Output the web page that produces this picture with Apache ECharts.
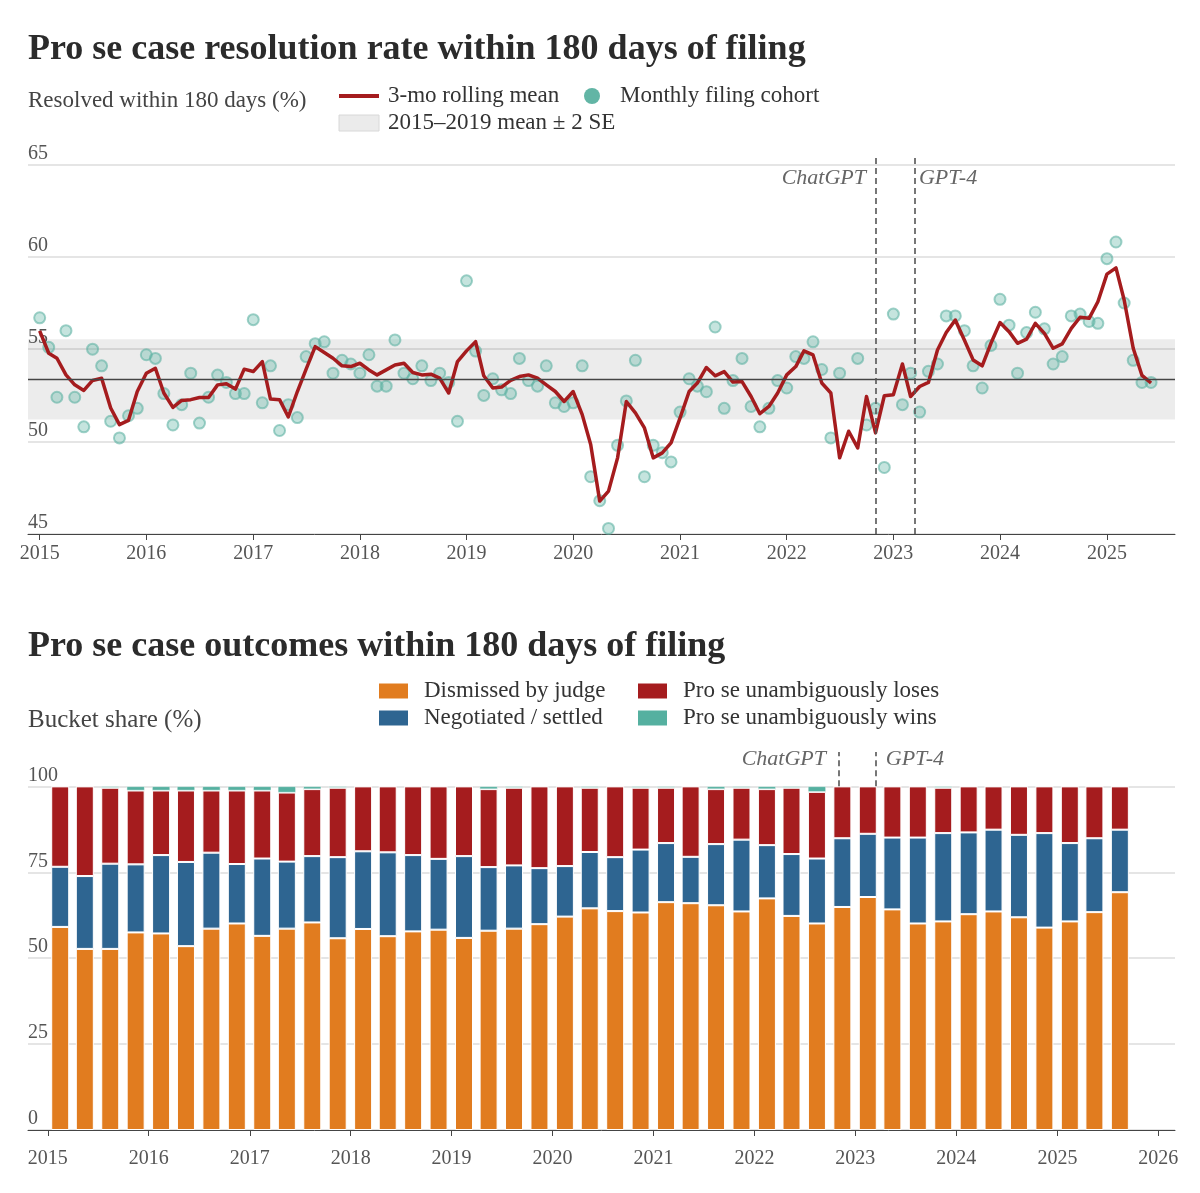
<!DOCTYPE html>
<html>
<head>
<meta charset="utf-8">
<title>Pro se case resolution</title>
<script src="https://cdn.jsdelivr.net/npm/echarts@6/dist/echarts.min.js"></script>
<style>
  html, body { margin: 0; padding: 0; background: #fff; }
  #chart { width: 1200px; height: 1193px; }
</style>
</head>
<body>
<div id="chart"></div>
<script>
const FONT = '"Liberation Serif", "Times New Roman", serif';

// monthly filing cohorts, Jan 2015 .. Jun 2025 (% resolved within 180 days)
const cohortRate = [
  56.7, 55.1, 52.4, 56.0, 52.4, 50.8, 55.0, 54.1, 51.1, 50.2, 51.4, 51.8,
  54.7, 54.5, 52.6, 50.9, 52.0, 53.7, 51.0, 52.4, 53.6, 53.2, 52.6, 52.6,
  56.6, 52.1, 54.1, 50.6, 52.0, 51.3, 54.6, 55.3, 55.4, 53.7, 54.4, 54.2,
  53.7, 54.7, 53.0, 53.0, 55.5, 53.7, 53.4, 54.1, 53.3, 53.7, 53.2, 51.1,
  58.7, 54.9, 52.5, 53.4, 52.8, 52.6, 54.5, 53.3, 53.0, 54.1, 52.1, 51.9,
  52.1, 54.1, 48.1, 46.8, 45.3, 49.8, 52.2, 54.4, 48.1, 49.8, 49.4, 48.9,
  51.6, 53.4, 53.0, 52.7, 56.2, 51.8, 53.3, 54.5, 51.9, 50.8, 51.8, 53.3,
  52.9, 54.6, 54.5, 55.4, 53.9, 50.2, 53.7, 43.5, 54.5, 50.9, 51.8, 48.6,
  56.9, 52.0, 53.7, 51.6, 53.8, 54.2, 56.8, 56.8, 56.0, 54.1, 52.9, 55.2,
  57.7, 56.3, 53.7, 55.9, 57.0, 56.1, 54.2, 54.6, 56.8, 56.9, 56.5, 56.4,
  59.9, 60.8, 57.5, 54.4, 53.2, 53.2
];

// 3-month rolling mean as drawn
const rollingMean = [
  55.99, 54.78, 54.51, 53.61, 53.07, 52.77, 53.31, 53.43, 51.82, 50.92, 51.15, 52.71,
  53.70, 53.97, 52.63, 51.85, 52.23, 52.27, 52.39, 52.39, 53.07, 53.13, 52.84, 53.92,
  53.79, 54.33, 52.30, 52.27, 51.33, 52.71, 53.92, 55.14, 54.82, 54.51, 54.10, 54.06,
  54.24, 53.88, 53.61, 53.88, 54.15, 54.24, 53.74, 53.61, 53.65, 53.43, 52.63, 54.33,
  54.91, 55.41, 53.56, 52.90, 52.95, 53.31, 53.52, 53.61, 53.43, 53.07, 52.71, 52.17,
  52.71, 51.46, 49.84, 46.78, 47.32, 49.12, 52.17, 51.55, 50.74, 49.12, 49.39, 49.93,
  51.28, 52.71, 53.17, 54.01, 53.56, 53.79, 53.22, 53.25, 52.44, 51.51, 51.90, 52.63,
  53.61, 54.06, 54.91, 54.69, 53.17, 52.63, 49.12, 50.56, 49.66, 52.44, 50.47, 52.48,
  52.54, 54.20, 52.44, 52.98, 53.20, 54.96, 55.90, 56.58, 55.50, 54.42, 54.10, 55.32,
  56.44, 55.95, 55.32, 55.54, 56.40, 55.86, 55.05, 55.29, 56.13, 56.73, 56.67, 57.57,
  59.06, 59.40, 57.66, 55.05, 53.58, 53.17
];

const baselineMean = 53.37;
const baselineLow = 51.19;
const baselineHigh = 55.54;

// quarterly outcome shares, 2015Q1 .. 2025Q3 (%)
const dismissed = [
  59.1, 52.7, 52.7, 57.5, 57.2, 53.5, 58.6, 60.1, 56.5, 58.6, 60.4, 55.8,
  58.5, 56.4, 57.8, 58.3, 55.9, 58.0, 58.6, 59.9, 62.1, 64.5, 63.7, 63.3,
  66.3, 66.0, 65.4, 63.6, 67.4, 62.3, 60.1, 64.9, 67.8, 64.2, 60.1, 60.7,
  62.8, 63.6, 61.9, 58.9, 60.7, 63.4, 69.2
];
const negotiated = [
  17.5, 21.2, 24.8, 19.8, 22.8, 24.5, 22.1, 17.3, 22.5, 19.5, 19.3, 23.6,
  22.6, 24.4, 22.2, 20.6, 23.8, 18.5, 18.4, 16.3, 14.7, 16.4, 15.7, 18.3,
  17.2, 13.5, 17.8, 20.9, 15.5, 18.0, 18.9, 20.0, 18.4, 20.9, 25.0, 25.7,
  23.8, 23.8, 24.0, 27.5, 22.8, 21.5, 18.2
];
const loses = [
  23.4, 26.1, 22.1, 21.5, 18.8, 20.8, 18.1, 21.4, 19.8, 20.1, 19.5, 20.2,
  18.9, 19.2, 20.0, 21.1, 20.3, 22.7, 22.6, 23.8, 23.2, 18.7, 20.6, 18.0,
  16.1, 20.5, 16.0, 15.1, 16.3, 19.3, 19.4, 15.1, 13.8, 14.9, 14.9, 13.2,
  13.4, 12.6, 14.1, 13.6, 16.5, 15.1, 12.6
];
const wins = [
  0, 0, 0.4, 1.2, 1.2, 1.2, 1.2, 1.2, 1.2, 1.8, 0.8, 0.4,
  0, 0, 0, 0, 0, 0.8, 0.4, 0, 0, 0.4, 0, 0.4,
  0.4, 0, 0.8, 0.4, 0.8, 0.4, 1.6, 0, 0, 0, 0, 0.4,
  0, 0, 0, 0, 0, 0, 0
];

const events = [
  { name: 'ChatGPT', date: Date.UTC(2022, 10, 1), side: 'left' },
  { name: 'GPT-4', date: Date.UTC(2023, 2, 14), side: 'right' }
];

// x positions: month starts and mid-quarter dates
const months = cohortRate.map((_, i) => Date.UTC(2015, i, 1));
const quarters = dismissed.map((_, i) => Date.UTC(2015, 3 * i + 1, 15));

const RED = '#a51c1e';
const ORANGE = '#e17c1f';
const BLUE = '#2e6591';
const WIN = '#55b0a0';
const DAY = 24 * 3600 * 1000;

const tickLabel = { fontFamily: FONT, fontSize: 20, color: '#555' };
const legendText = { fontFamily: FONT, fontSize: 23, color: '#333', lineHeight: 24 };

function timeAxis(gridIndex, min, max, labelMargin) {
  return {
    type: 'time',
    gridIndex,
    min,
    max,
    minInterval: 365 * DAY,
    maxInterval: 367 * DAY,
    axisLine: { lineStyle: { color: '#444', width: 1 } },
    axisTick: { length: 6, lineStyle: { color: '#444' } },
    axisLabel: {
      ...tickLabel,
      formatter: '{yyyy}',
      margin: labelMargin,
      showMinLabel: false,
      showMaxLabel: false
    },
    splitLine: { show: false }
  };
}

function valueAxis(gridIndex, min, max, interval) {
  return {
    type: 'value',
    gridIndex,
    min,
    max,
    interval,
    axisLine: { show: false },
    axisTick: { show: false },
    axisLabel: {
      ...tickLabel,
      inside: true,
      margin: 0,
      verticalAlign: 'bottom',
      padding: [0, 0, 1, 0],
      showMaxLabel: false
    },
    splitLine: { showMaxLine: false, lineStyle: { color: '#dcdcdc', width: 1.5 } }
  };
}

function eventSeries(xAxisIndex, yAxisIndex, yFrom, yTo, yLabel, gaps) {
  return {
    type: 'line',
    xAxisIndex,
    yAxisIndex,
    data: [],
    silent: true,
    z: 1,
    markLine: {
      silent: true,
      symbol: 'none',
      animation: false,
      lineStyle: { color: '#555', width: 1.6, type: [6, 4] },
      label: { show: false },
      data: events.map(e => [{ coord: [e.date, yFrom] }, { coord: [e.date, yTo] }])
    },
    markPoint: {
      silent: true,
      animation: false,
      symbol: 'circle',
      symbolSize: 1,
      itemStyle: { color: 'rgba(0,0,0,0)' },
      data: events.map((e, i) => ({
        coord: [e.date, yLabel],
        label: {
          show: true,
          position: e.side,
          distance: gaps[i],
          formatter: e.name,
          fontFamily: FONT,
          fontStyle: 'italic',
          fontSize: 22,
          color: '#666'
        }
      }))
    }
  };
}

const chart = echarts.init(document.getElementById('chart'));

const titleStyle = { fontFamily: FONT, fontWeight: 'bold', fontSize: 36, lineHeight: 40, color: '#2b2b2b' };
const nameStyle = { fontFamily: FONT, fontWeight: 'normal', fontSize: 23, lineHeight: 26, color: '#444' };

const option = {
  animation: false,
  useUTC: true,
  backgroundColor: '#fff',
  title: [
    { text: 'Pro se case resolution rate within 180 days of filing', left: 28, top: 30, padding: 0, textStyle: titleStyle },
    { text: 'Resolved within 180 days (%)', left: 28, top: 88, padding: 0, textStyle: nameStyle },
    { text: 'Pro se case outcomes within 180 days of filing', left: 28, top: 627, padding: 0, textStyle: titleStyle },
    { text: 'Bucket share (%)', left: 28, top: 707, padding: 0, textStyle: { ...nameStyle, fontSize: 25 } }
  ],
  legend: [
    {
      orient: 'vertical', left: 337, top: 84, padding: 0,
      itemWidth: 40, itemHeight: 16, itemGap: 3,
      selectedMode: false,
      textStyle: { ...legendText, padding: [0, 0, 0, 4] },
      data: [
        {
          name: '3-mo rolling mean',
          itemStyle: { color: 'rgba(0,0,0,0)', borderColor: 'rgba(0,0,0,0)', opacity: 0 },
          lineStyle: { color: RED, width: 4 }
        },
        {
          name: '2015–2019 mean ± 2 SE', icon: 'rect',
          itemStyle: { color: '#ebebeb', borderColor: '#d8d8d8', borderWidth: 1 },
          lineStyle: { opacity: 0 }
        }
      ]
    },
    {
      orient: 'vertical', left: 584, top: 84, padding: 0,
      itemWidth: 16, itemHeight: 16,
      selectedMode: false,
      textStyle: { ...legendText, padding: [0, 0, 0, 15] },
      data: [{ name: 'Monthly filing cohort', icon: 'circle', itemStyle: { color: '#62b5a5', opacity: 1, borderWidth: 0 } }]
    },
    {
      orient: 'vertical', left: 377, top: 679, padding: 0,
      itemWidth: 31, itemHeight: 17, itemGap: 3,
      selectedMode: false, icon: 'rect',
      textStyle: { ...legendText, padding: [0, 0, 0, 10] },
      data: ['Dismissed by judge', 'Negotiated / settled']
    },
    {
      orient: 'vertical', left: 636, top: 679, padding: 0,
      itemWidth: 31, itemHeight: 17, itemGap: 3,
      selectedMode: false, icon: 'rect',
      textStyle: { ...legendText, padding: [0, 0, 0, 10] },
      data: ['Pro se unambiguously loses', 'Pro se unambiguously wins']
    }
  ],
  grid: [
    { left: 28, right: 25, top: 157, bottom: 659 },
    { left: 28, right: 25, top: 752, bottom: 63 }
  ],
  xAxis: [
    timeAxis(0, Date.UTC(2014, 10, 22), Date.UTC(2025, 7, 22), 10),
    // bar overflow padding widens this range by half a bar on each side
    timeAxis(1, Date.UTC(2014, 10, 23), Date.UTC(2026, 0, 29), 19)
  ],
  yAxis: [
    valueAxis(0, 45, 65.4, 5),
    valueAxis(1, 0, 110, 25)
  ],
  series: [
    {
      name: '2015–2019 mean ± 2 SE',
      type: 'line',
      xAxisIndex: 0, yAxisIndex: 0,
      data: [],
      silent: true,
      z: 1,
      lineStyle: { opacity: 0 },
      markArea: {
        silent: true,
        itemStyle: { color: 'rgba(0,0,0,0.075)' },
        data: [[{ yAxis: baselineLow }, { yAxis: baselineHigh }]]
      },
      markLine: {
        silent: true,
        symbol: 'none',
        label: { show: false },
        lineStyle: { color: '#444', width: 1.3, type: 'solid' },
        data: [{ yAxis: baselineMean }]
      }
    },
    {
      name: 'Monthly filing cohort',
      type: 'scatter',
      xAxisIndex: 0, yAxisIndex: 0,
      symbolSize: 11,
      z: 3,
      itemStyle: {
        color: 'rgba(95,179,163,0.45)',
        borderColor: 'rgba(95,179,163,0.75)',
        borderWidth: 2
      },
      data: months.map((t, i) => [t, cohortRate[i]])
    },
    {
      name: '3-mo rolling mean',
      type: 'line',
      xAxisIndex: 0, yAxisIndex: 0,
      symbol: 'none',
      z: 4,
      lineStyle: { color: RED, width: 3.5, join: 'round' },
      itemStyle: { color: RED },
      data: months.map((t, i) => [t, rollingMean[i]])
    },
    eventSeries(0, 0, 45, 65.4, 64.25, [9, 4]),
    {
      name: 'Dismissed by judge', type: 'bar', stack: 'out',
      xAxisIndex: 1, yAxisIndex: 1, barWidth: 18, z: 2,
      itemStyle: { color: ORANGE, borderColor: '#fff', borderWidth: 1 },
      data: quarters.map((t, i) => [t, dismissed[i]])
    },
    {
      name: 'Negotiated / settled', type: 'bar', stack: 'out',
      xAxisIndex: 1, yAxisIndex: 1, barWidth: 18, z: 2,
      itemStyle: { color: BLUE, borderColor: '#fff', borderWidth: 1 },
      data: quarters.map((t, i) => [t, negotiated[i]])
    },
    {
      name: 'Pro se unambiguously loses', type: 'bar', stack: 'out',
      xAxisIndex: 1, yAxisIndex: 1, barWidth: 18, z: 2,
      itemStyle: { color: RED, borderColor: '#fff', borderWidth: 1 },
      data: quarters.map((t, i) => [t, loses[i]])
    },
    {
      name: 'Pro se unambiguously wins', type: 'bar', stack: 'out',
      xAxisIndex: 1, yAxisIndex: 1, barWidth: 18, z: 2,
      itemStyle: { color: WIN, borderColor: '#fff', borderWidth: 0.5 },
      data: quarters.map((t, i) => [t, wins[i]])
    },
    eventSeries(1, 1, 100, 110, 108, [12, 10])
  ]
};

chart.setOption(option);
</script>
</body>
</html>
